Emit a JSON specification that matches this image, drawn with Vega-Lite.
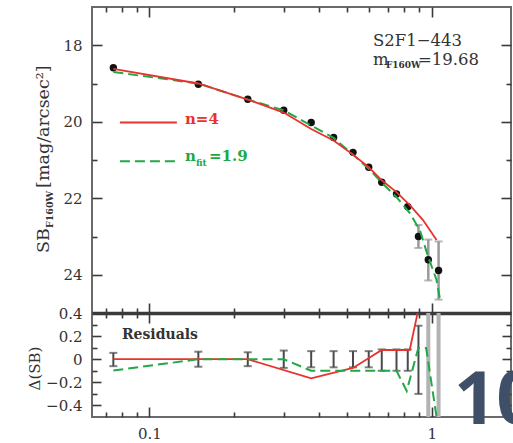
{
  "$schema": "https://vega.github.io/schema/vega-lite/v6.json",
  "padding": {"left": 26, "top": 5, "right": 0, "bottom": 0},
  "spacing": 0,
  "bounds": "flush",
  "config": {
    "view": {"stroke": "#6a6a6a", "strokeWidth": 2},
    "axis": {
      "grid": false,
      "domain": false,
      "labelFont": "DejaVu Serif",
      "labelFontSize": 15,
      "labelColor": "#333333",
      "labelFlush": false,
      "labelOverlap": false,
      "tickColor": "#3a3a3a",
      "tickWidth": 1.6
    },
    "text": {"font": "DejaVu Serif"}
  },
  "datasets": {
    "points": [
      {"r": 0.0745, "sb": 18.59}, {"r": 0.149, "sb": 19.02}, {"r": 0.223, "sb": 19.41},
      {"r": 0.299, "sb": 19.70}, {"r": 0.374, "sb": 20.02}, {"r": 0.449, "sb": 20.41},
      {"r": 0.526, "sb": 20.80}, {"r": 0.598, "sb": 21.19}, {"r": 0.665, "sb": 21.58},
      {"r": 0.750, "sb": 21.89}, {"r": 0.822, "sb": 22.22}, {"r": 0.897, "sb": 23.00},
      {"r": 0.972, "sb": 23.61}, {"r": 1.057, "sb": 23.89}
    ],
    "sbBars": [
      {"r": 0.897, "lo": 22.70, "hi": 23.30},
      {"r": 0.972, "lo": 23.08, "hi": 24.15},
      {"r": 1.057, "lo": 23.13, "hi": 24.65}
    ],
    "modelN4": [
      {"r": 0.0745, "sb": 18.62}, {"r": 0.149, "sb": 19.00}, {"r": 0.223, "sb": 19.42},
      {"r": 0.299, "sb": 19.76}, {"r": 0.374, "sb": 20.19}, {"r": 0.449, "sb": 20.49},
      {"r": 0.526, "sb": 20.86}, {"r": 0.598, "sb": 21.19}, {"r": 0.665, "sb": 21.53},
      {"r": 0.750, "sb": 21.84}, {"r": 0.836, "sb": 22.18}, {"r": 0.931, "sb": 22.57},
      {"r": 1.040, "sb": 23.09}
    ],
    "modelFit": [
      {"r": 0.0745, "sb": 18.70}, {"r": 0.149, "sb": 19.00}, {"r": 0.223, "sb": 19.42},
      {"r": 0.299, "sb": 19.70}, {"r": 0.374, "sb": 20.10}, {"r": 0.449, "sb": 20.42},
      {"r": 0.526, "sb": 20.86}, {"r": 0.598, "sb": 21.23}, {"r": 0.665, "sb": 21.59},
      {"r": 0.750, "sb": 21.97}, {"r": 0.836, "sb": 22.39}, {"r": 0.907, "sb": 22.83},
      {"r": 0.970, "sb": 23.52}, {"r": 1.039, "sb": 24.13}, {"r": 1.067, "sb": 24.60}
    ],
    "resBars": [
      {"r": 0.0745, "lo": -0.06, "hi": 0.055}, {"r": 0.149, "lo": -0.065, "hi": 0.065},
      {"r": 0.223, "lo": -0.06, "hi": 0.06}, {"r": 0.299, "lo": -0.075, "hi": 0.075},
      {"r": 0.374, "lo": -0.07, "hi": 0.07}, {"r": 0.449, "lo": -0.07, "hi": 0.07},
      {"r": 0.526, "lo": -0.07, "hi": 0.07}, {"r": 0.598, "lo": -0.07, "hi": 0.07},
      {"r": 0.665, "lo": -0.10, "hi": 0.085}, {"r": 0.750, "lo": -0.10, "hi": 0.085},
      {"r": 0.822, "lo": -0.10, "hi": 0.085}, {"r": 0.897, "lo": -0.30, "hi": 0.29},
      {"r": 0.972, "lo": -0.56, "hi": 0.56}, {"r": 1.057, "lo": -0.76, "hi": 0.76}
    ],
    "resN4": [
      {"r": 0.0745, "d": 0}, {"r": 0.149, "d": 0}, {"r": 0.223, "d": 0},
      {"r": 0.374, "d": -0.165}, {"r": 0.526, "d": -0.075}, {"r": 0.665, "d": 0.08},
      {"r": 0.835, "d": 0.08}, {"r": 0.90, "d": 0.45}
    ],
    "resFit": [
      {"r": 0.0745, "d": -0.098}, {"r": 0.149, "d": 0}, {"r": 0.223, "d": 0},
      {"r": 0.299, "d": 0}, {"r": 0.374, "d": -0.1}, {"r": 0.449, "d": -0.1},
      {"r": 0.526, "d": -0.1}, {"r": 0.598, "d": -0.1}, {"r": 0.665, "d": -0.1},
      {"r": 0.750, "d": -0.1}, {"r": 0.815, "d": -0.275}, {"r": 0.896, "d": 0.097},
      {"r": 0.955, "d": 0.097}, {"r": 1.040, "d": -0.5}, {"r": 1.05, "d": -0.6}
    ]
  },
  "vconcat": [
    {
      "width": 419,
      "height": 306,
      "layer": [
        {
          "data": {"name": "sbBars"},
          "mark": {"type": "rule", "color": "#9a9a9a", "strokeWidth": 2.5},
          "encoding": {
            "x": {
              "field": "r", "type": "quantitative", "title": null,
              "scale": {"type": "log", "domain": [0.0626, 1.908], "nice": false},
              "axis": {
                "orient": "bottom", "labels": false, "title": null,
                "values": [0.07, 0.08, 0.09, 0.1, 0.2, 0.3, 0.4, 0.5, 0.6, 0.7, 0.8, 0.9, 1],
                "tickSize": {"condition": {"test": "datum.value == 0.1 || datum.value == 1", "value": -10}, "value": -5}
              }
            },
            "y": {
              "field": "lo", "type": "quantitative", "title": null,
              "scale": {"domain": [17, 25], "reverse": true, "nice": false, "zero": false},
              "axis": {
                "orient": "left", "title": null, "format": "d",
                "values": [18, 19, 20, 21, 22, 23, 24],
                "labelExpr": "datum.value % 2 == 0 ? datum.label : ''",
                "labelPadding": 20,
                "tickSize": {"condition": {"test": "datum.value % 2 == 0", "value": -10}, "value": -5}
              }
            },
            "y2": {"field": "hi"}
          }
        },
        {
          "data": {"name": "sbBars"},
          "mark": {"type": "tick", "orient": "horizontal", "color": "#9a9a9a", "size": 8, "thickness": 2},
          "encoding": {
            "x": {"field": "r", "type": "quantitative", "axis": null},
            "y": {"field": "lo", "type": "quantitative", "axis": null}
          }
        },
        {
          "data": {"name": "sbBars"},
          "mark": {"type": "tick", "orient": "horizontal", "color": "#9a9a9a", "size": 8, "thickness": 2},
          "encoding": {
            "x": {"field": "r", "type": "quantitative", "axis": null},
            "y": {"field": "hi", "type": "quantitative", "axis": null}
          }
        },
        {
          "data": {"name": "points"},
          "mark": {"type": "circle", "color": "#111111", "size": 55, "opacity": 1},
          "encoding": {
            "x": {
              "field": "r", "type": "quantitative",
              "axis": {
                "orient": "top", "labels": false, "title": null,
                "values": [0.07, 0.08, 0.09, 0.1, 0.2, 0.3, 0.4, 0.5, 0.6, 0.7, 0.8, 0.9, 1],
                "tickSize": {"condition": {"test": "datum.value == 0.1 || datum.value == 1", "value": -10}, "value": -5}
              }
            },
            "y": {
              "field": "sb", "type": "quantitative",
              "axis": {
                "orient": "right", "labels": false, "title": null,
                "values": [18, 19, 20, 21, 22, 23, 24],
                "tickSize": {"condition": {"test": "datum.value % 2 == 0", "value": -10}, "value": -5}
              }
            }
          }
        },
        {
          "data": {"name": "modelFit"},
          "mark": {"type": "line", "color": "#22a847", "strokeWidth": 2, "strokeDash": [10, 5]},
          "encoding": {
            "x": {"field": "r", "type": "quantitative", "axis": null},
            "y": {"field": "sb", "type": "quantitative", "axis": null}
          }
        },
        {
          "data": {"name": "modelN4"},
          "mark": {"type": "line", "color": "#e8322d", "strokeWidth": 1.8},
          "encoding": {
            "x": {"field": "r", "type": "quantitative", "axis": null},
            "y": {"field": "sb", "type": "quantitative", "axis": null}
          }
        },
        {
          "data": {"values": [{}]},
          "mark": {"type": "rule", "color": "#e8322d", "strokeWidth": 1.8},
          "encoding": {
            "x": {"datum": 0.0786, "type": "quantitative", "axis": null},
            "x2": {"datum": 0.1251},
            "y": {"datum": 20.02, "type": "quantitative", "axis": null}
          }
        },
        {
          "data": {"values": [{}]},
          "mark": {"type": "rule", "color": "#22a847", "strokeWidth": 2, "strokeDash": [10, 5]},
          "encoding": {
            "x": {"datum": 0.0786, "type": "quantitative", "axis": null},
            "x2": {"datum": 0.1251},
            "y": {"datum": 21.03, "type": "quantitative", "axis": null}
          }
        },
        {
          "data": {"values": [{}]},
          "mark": {"type": "text", "color": "#e8322d", "fontSize": 15, "fontWeight": "bold", "align": "left", "baseline": "alphabetic"},
          "encoding": {
            "x": {"datum": 0.1336, "type": "quantitative", "axis": null},
            "y": {"datum": 20.06, "type": "quantitative", "axis": null},
            "text": {"value": "n=4"}
          }
        },
        {
          "data": {"values": [{}]},
          "mark": {"type": "text", "color": "#22a847", "fontSize": 15, "fontWeight": "bold", "align": "left", "baseline": "alphabetic"},
          "encoding": {
            "x": {"datum": 0.1336, "type": "quantitative", "axis": null},
            "y": {"datum": 21.03, "type": "quantitative", "axis": null},
            "text": {"value": "n"}
          }
        },
        {
          "data": {"values": [{}]},
          "mark": {"type": "text", "color": "#22a847", "fontSize": 9, "fontWeight": "bold", "align": "left", "baseline": "alphabetic"},
          "encoding": {
            "x": {"datum": 0.1462, "type": "quantitative", "axis": null},
            "y": {"datum": 21.16, "type": "quantitative", "axis": null},
            "text": {"value": "fit"}
          }
        },
        {
          "data": {"values": [{}]},
          "mark": {"type": "text", "color": "#22a847", "fontSize": 15, "fontWeight": "bold", "align": "left", "baseline": "alphabetic"},
          "encoding": {
            "x": {"datum": 0.1625, "type": "quantitative", "axis": null},
            "y": {"datum": 21.03, "type": "quantitative", "axis": null},
            "text": {"value": "=1.9"}
          }
        },
        {
          "data": {"values": [{}]},
          "mark": {"type": "text", "color": "#333333", "fontSize": 16.5, "align": "left", "baseline": "alphabetic"},
          "encoding": {
            "x": {"datum": 0.619, "type": "quantitative", "axis": null},
            "y": {"datum": 18.02, "type": "quantitative", "axis": null},
            "text": {"value": "S2F1−443"}
          }
        },
        {
          "data": {"values": [{}]},
          "mark": {"type": "text", "color": "#333333", "fontSize": 16.5, "align": "left", "baseline": "alphabetic"},
          "encoding": {
            "x": {"datum": 0.619, "type": "quantitative", "axis": null},
            "y": {"datum": 18.52, "type": "quantitative", "axis": null},
            "text": {"value": "m"}
          }
        },
        {
          "data": {"values": [{}]},
          "mark": {"type": "text", "color": "#333333", "fontSize": 9, "fontWeight": "bold", "align": "left", "baseline": "alphabetic"},
          "encoding": {
            "x": {"datum": 0.688, "type": "quantitative", "axis": null},
            "y": {"datum": 18.59, "type": "quantitative", "axis": null},
            "text": {"value": "F160W"}
          }
        },
        {
          "data": {"values": [{}]},
          "mark": {"type": "text", "color": "#333333", "fontSize": 16.5, "align": "left", "baseline": "alphabetic"},
          "encoding": {
            "x": {"datum": 0.894, "type": "quantitative", "axis": null},
            "y": {"datum": 18.52, "type": "quantitative", "axis": null},
            "text": {"value": "=19.68"}
          }
        },
        {
          "data": {"values": [{}]},
          "mark": {"type": "text", "color": "#333333", "fontSize": 17.5, "angle": 270, "align": "left", "baseline": "alphabetic"},
          "encoding": {
            "x": {"datum": 0.0442, "type": "quantitative", "axis": null},
            "y": {"datum": 23.43, "type": "quantitative", "axis": null},
            "text": {"value": "SB"}
          }
        },
        {
          "data": {"values": [{}]},
          "mark": {"type": "text", "color": "#333333", "fontSize": 9.5, "fontWeight": "bold", "angle": 270, "align": "left", "baseline": "alphabetic"},
          "encoding": {
            "x": {"datum": 0.0455, "type": "quantitative", "axis": null},
            "y": {"datum": 22.78, "type": "quantitative", "axis": null},
            "text": {"value": "F160W"}
          }
        },
        {
          "data": {"values": [{}]},
          "mark": {"type": "text", "color": "#333333", "fontSize": 17.5, "angle": 270, "align": "left", "baseline": "alphabetic"},
          "encoding": {
            "x": {"datum": 0.0442, "type": "quantitative", "axis": null},
            "y": {"datum": 21.73, "type": "quantitative", "axis": null},
            "text": {"value": "[mag/arcsec²]"}
          }
        }
      ]
    },
    {
      "width": 419,
      "height": 104,
      "layer": [
        {
          "data": {"name": "resBars"},
          "transform": [{"filter": "datum.hi < 0.4"}],
          "mark": {"type": "rule", "color": "#4a4a4a", "strokeWidth": 2},
          "encoding": {
            "x": {
              "field": "r", "type": "quantitative", "title": null,
              "scale": {"type": "log", "domain": [0.0626, 1.908], "nice": false},
              "axis": {
                "orient": "bottom", "title": null, "format": "~g",
                "values": [0.07, 0.08, 0.09, 0.1, 0.2, 0.3, 0.4, 0.5, 0.6, 0.7, 0.8, 0.9, 1],
                "labelExpr": "datum.value == 0.1 || datum.value == 1 ? datum.label : ''",
                "labelPadding": 19,
                "tickSize": {"condition": {"test": "datum.value == 0.1 || datum.value == 1", "value": -10}, "value": -5}
              }
            },
            "y": {
              "field": "lo", "type": "quantitative", "title": null,
              "scale": {"domain": [-0.5, 0.4], "nice": false, "zero": false},
              "axis": {
                "orient": "left", "title": null, "format": ".1~f",
                "values": [-0.4, -0.3, -0.2, -0.1, 0, 0.1, 0.2, 0.3, 0.4],
                "labelExpr": "abs(round(datum.value * 10)) % 2 == 0 ? datum.label : ''",
                "labelPadding": 19,
                "tickSize": {"condition": {"test": "abs(round(datum.value * 10)) % 2 == 0", "value": -9}, "value": -5}
              }
            },
            "y2": {"field": "hi"}
          }
        },
        {
          "data": {"name": "resBars"},
          "transform": [{"filter": "datum.hi < 0.4"}],
          "mark": {"type": "tick", "orient": "horizontal", "color": "#4a4a4a", "size": 8, "thickness": 2},
          "encoding": {
            "x": {"field": "r", "type": "quantitative", "axis": null},
            "y": {"field": "lo", "type": "quantitative", "axis": null}
          }
        },
        {
          "data": {"name": "resBars"},
          "transform": [{"filter": "datum.hi < 0.4"}],
          "mark": {"type": "tick", "orient": "horizontal", "color": "#4a4a4a", "size": 8, "thickness": 2},
          "encoding": {
            "x": {"field": "r", "type": "quantitative", "axis": null},
            "y": {"field": "hi", "type": "quantitative", "axis": null}
          }
        },
        {
          "data": {"name": "resBars"},
          "transform": [{"filter": "datum.hi >= 0.4"}],
          "mark": {"type": "rule", "color": "#b3b3b3", "strokeWidth": 4, "clip": true},
          "encoding": {
            "x": {"field": "r", "type": "quantitative", "axis": null},
            "y": {"field": "lo", "type": "quantitative", "axis": null},
            "y2": {"field": "hi"}
          }
        },
        {
          "data": {"name": "resN4"},
          "mark": {"type": "line", "color": "#e8322d", "strokeWidth": 1.8, "clip": true},
          "encoding": {
            "x": {
              "field": "r", "type": "quantitative",
              "axis": {
                "orient": "top", "labels": false, "title": null,
                "domain": true, "domainColor": "#3a3a3a", "domainWidth": 3.5,
                "values": [0.07, 0.08, 0.09, 0.1, 0.2, 0.3, 0.4, 0.5, 0.6, 0.7, 0.8, 0.9, 1],
                "tickSize": {"condition": {"test": "datum.value == 0.1 || datum.value == 1", "value": -10}, "value": -5}
              }
            },
            "y": {
              "field": "d", "type": "quantitative",
              "axis": {
                "orient": "right", "labels": false, "title": null,
                "values": [-0.4, -0.3, -0.2, -0.1, 0, 0.1, 0.2, 0.3, 0.4],
                "tickSize": {"condition": {"test": "abs(round(datum.value * 10)) % 2 == 0", "value": -9}, "value": -5}
              }
            }
          }
        },
        {
          "data": {"name": "resFit"},
          "mark": {"type": "line", "color": "#22a847", "strokeWidth": 2, "strokeDash": [10, 5], "clip": true},
          "encoding": {
            "x": {"field": "r", "type": "quantitative", "axis": null},
            "y": {"field": "d", "type": "quantitative", "axis": null}
          }
        },
        {
          "data": {"values": [{}]},
          "mark": {"type": "text", "color": "#333333", "fontSize": 14, "fontWeight": "bold", "align": "left", "baseline": "alphabetic"},
          "encoding": {
            "x": {"datum": 0.0799, "type": "quantitative", "axis": null},
            "y": {"datum": 0.175, "type": "quantitative", "axis": null},
            "text": {"value": "Residuals"}
          }
        },
        {
          "data": {"values": [{}]},
          "mark": {"type": "text", "color": "#333333", "fontSize": 15, "angle": 270, "align": "center", "baseline": "alphabetic"},
          "encoding": {
            "x": {"datum": 0.0409, "type": "quantitative", "axis": null},
            "y": {"datum": -0.08, "type": "quantitative", "axis": null},
            "text": {"value": "Δ(SB)"}
          }
        },
        {
          "data": {"values": [{}]},
          "mark": {"type": "text", "color": "#3e4f67", "font": "Open Sans", "fontSize": 74, "fontWeight": "bold", "align": "left", "baseline": "alphabetic"},
          "encoding": {
            "x": {"datum": 1.198, "type": "quantitative", "axis": null},
            "y": {"datum": -0.56, "type": "quantitative", "axis": null},
            "text": {"value": "10"}
          }
        }
      ]
    }
  ]
}
